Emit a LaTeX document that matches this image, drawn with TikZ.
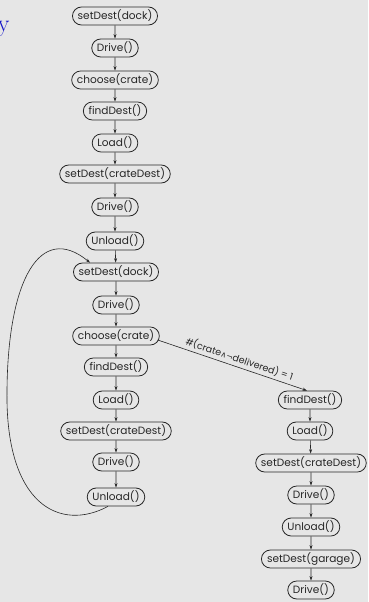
\documentclass[tikz,border=0pt]{standalone}
\usepackage{fontspec}
\setmainfont{Poppins}
\newfontfamily\symfont{DejaVu Sans}
\usetikzlibrary{shapes.misc,arrows.meta,calc}
\definecolor{bg}{RGB}{230,230,230}
\definecolor{ttl}{RGB}{20,20,200}
\begin{document}
\begin{tikzpicture}[x=1bp,y=-1bp,
  act/.style={rounded rectangle, draw=black!85, line width=0.8bp, minimum height=18bp, inner xsep=3bp, inner ysep=0bp, font=\fontsize{10.6}{11}\selectfont, text=black!85},
  flow/.style={-{Stealth[length=4.5bp,width=3bp]}, line width=0.6bp, draw=black!85}]
\fill[bg] (0,0) rectangle (368,602);
\useasboundingbox (0,0) rectangle (368,602);
\node[anchor=base east, text=ttl, font=\fontsize{24}{24}\selectfont\rmfamily] (ttl) at (13,32) {\fontspec{Latin Modern Roman}y};
% column 1
\node[act] (a1) at (115,16) {setDest(dock)};
\node[act] (a2) at (115,48) {Drive()};
\node[act] (a3) at (115,80) {choose(crate)};
\node[act] (a4) at (115,111) {findDest()};
\node[act] (a5) at (115,143) {Load()};
\node[act] (a6) at (115,174) {setDest(crateDest)};
\node[act] (a7) at (115,207) {Drive()};
\node[act] (a8) at (115,241) {Unload()};
\node[act] (b1) at (116,272) {setDest(dock)};
\node[act] (b2) at (116,305) {Drive()};
\node[act] (b3) at (116,336) {choose(crate)};
\node[act] (b4) at (116,367) {findDest()};
\node[act] (b5) at (116,400) {Load()};
\node[act] (b6) at (116,431) {setDest(crateDest)};
\node[act] (b7) at (116,462) {Drive()};
\node[act] (b8) at (116,497) {Unload()};
% column 2
\node[act] (c1) at (310,400) {findDest()};
\node[act] (c2) at (310,431) {Load()};
\node[act] (c3) at (311,463) {setDest(crateDest)};
\node[act] (c4) at (311,495) {Drive()};
\node[act] (c5) at (311,527) {Unload()};
\node[act] (c6) at (311,559) {setDest(garage)};
\node[act] (c7) at (311,590) {Drive()};
\foreach \p/\q in {a1/a2,a2/a3,a3/a4,a4/a5,a5/a6,a6/a7,a7/a8,a8/b1,b1/b2,b2/b3,b3/b4,b4/b5,b5/b6,b6/b7,b7/b8,c1/c2,c2/c3,c3/c4,c4/c5,c5/c6,c6/c7}
  \draw[flow] (\p) -- (\q);
\draw[flow] ($(b3.east)+(-2,4)$) -- node[pos=0.53, sloped, above, inner sep=2.5bp, font=\fontsize{9.5}{10}\selectfont, text=black!85] {\#(crate{\symfont\fontsize{8}{10}\selectfont ∧¬}delivered) = 1} ($(c1.north)+(-3,0)$);
\coordinate (lp) at (7,390);
\draw[flow] ($(b8.south)+(-8,0)$) .. controls (60,532) and (5,505) .. (lp) .. controls (8,280) and (40,222) .. ($(b1.north)+(-26,0)$);
\end{tikzpicture}
\end{document}
